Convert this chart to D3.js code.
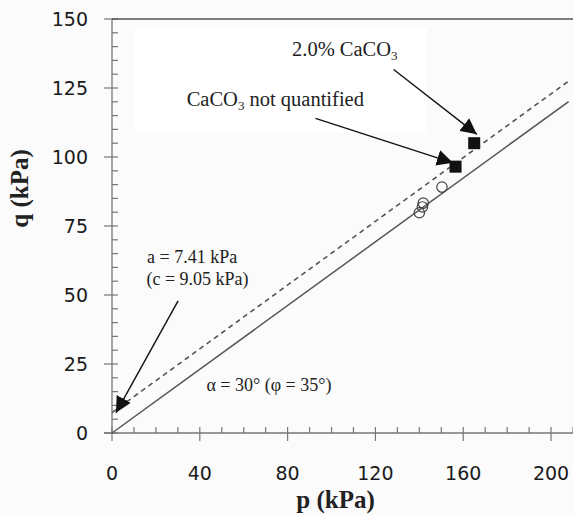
<!DOCTYPE html>
<html>
<head>
<meta charset="utf-8">
<script src="https://cdn.jsdelivr.net/npm/d3@7"></script>
<style>
  html, body { margin: 0; padding: 0; background: #fbfbfb; }
  svg { display: block; }
</style>
</head>
<body>
<div id="chart"></div>
<script>
// measured points
const quantifiedP = [165];
const quantifiedQ = [105];
const unquantifiedP = [156.5];
const unquantifiedQ = [96.5];
const openP = [150.3, 141.8, 141.4, 140.0];
const openQ = [89.1, 83.3, 81.9, 79.8];

// failure envelopes: q = a + p * tan(alpha)
const alphaDeg = 30;
const interceptA = 7.41;
const lineP = [0, 208];

const xTicks = [0, 40, 80, 120, 160, 200];
const yTicks = [0, 25, 50, 75, 100, 125, 150];

const width = 573, height = 515;
const margin = { top: 19, right: 0, bottom: 82, left: 112 };

const svg = d3.select("#chart")
    .append("svg")
    .attr("width", width)
    .attr("height", height);

const x = d3.scaleLinear().domain([0, 210]).range([margin.left, width - margin.right]);
const y = d3.scaleLinear().domain([0, 150]).range([height - margin.bottom, margin.top]);

// whiter patch behind the callout texts (scan artefact in the original)
svg.append("rect")
    .attr("x", 135).attr("y", 28)
    .attr("width", 292).attr("height", 105)
    .attr("fill", "#ffffff");

const axisColor = "#777";
const tickFont = "'DejaVu Sans', sans-serif";

// y axis: minor ticks inside, majors crossing
const yAxis = svg.append("g").attr("transform", `translate(${x(0)},0)`);
yAxis.append("line")
    .attr("y1", y(0)).attr("y2", y(150))
    .attr("stroke", axisColor).attr("stroke-width", 1.3);
yAxis.selectAll(".minor")
    .data(d3.range(0, 151, 5).filter(v => v % 25 !== 0))
    .enter().append("line")
    .attr("x1", 0).attr("x2", 6)
    .attr("y1", d => y(d)).attr("y2", d => y(d))
    .attr("stroke", axisColor).attr("stroke-width", 1.2);
yAxis.selectAll(".major")
    .data(yTicks)
    .enter().append("line")
    .attr("x1", -8).attr("x2", 6)
    .attr("y1", d => y(d)).attr("y2", d => y(d))
    .attr("stroke", axisColor).attr("stroke-width", 1.2);
yAxis.selectAll("text")
    .data(yTicks)
    .enter().append("text")
    .attr("x", -24)
    .attr("y", d => y(d))
    .attr("dy", "0.36em")
    .attr("text-anchor", "end")
    .attr("font-family", tickFont)
    .attr("font-size", 19)
    .attr("fill", "#1a1a1a")
    .text(d => d);

// x axis
const xAxis = svg.append("g").attr("transform", `translate(0,${y(0)})`);
xAxis.append("line")
    .attr("x1", x(0) - 8).attr("x2", width)
    .attr("stroke", axisColor).attr("stroke-width", 1.3);
xAxis.selectAll(".minor")
    .data(d3.range(0, 211, 10).filter(v => v % 40 !== 0))
    .enter().append("line")
    .attr("x1", d => x(d)).attr("x2", d => x(d))
    .attr("y1", -6).attr("y2", 0)
    .attr("stroke", axisColor).attr("stroke-width", 1.2);
xAxis.selectAll(".major")
    .data(xTicks)
    .enter().append("line")
    .attr("x1", d => x(d)).attr("x2", d => x(d))
    .attr("y1", -6).attr("y2", 8)
    .attr("stroke", axisColor).attr("stroke-width", 1.2);
xAxis.selectAll("text")
    .data(xTicks)
    .enter().append("text")
    .attr("x", d => x(d))
    .attr("y", 47)
    .attr("text-anchor", "middle")
    .attr("font-family", tickFont)
    .attr("font-size", 19)
    .attr("fill", "#1a1a1a")
    .text(d => d);

// top frame line
svg.append("line")
    .attr("x1", x(0)).attr("x2", width)
    .attr("y1", y(150)).attr("y2", y(150))
    .attr("stroke", "#555").attr("stroke-width", 1.5);

// axis titles
svg.append("text")
    .attr("x", x(0) + (width - x(0)) / 2 - 7)
    .attr("y", 508)
    .attr("text-anchor", "middle")
    .attr("font-family", "'Liberation Serif', 'Times New Roman', serif")
    .attr("font-weight", "bold")
    .attr("font-size", 25)
    .attr("fill", "#222")
    .text("p (kPa)");

svg.append("text")
    .attr("transform", `translate(28,${(y(75) + y(100)) / 2 - 3}) rotate(-90)`)
    .attr("text-anchor", "middle")
    .attr("font-family", "'Liberation Serif', 'Times New Roman', serif")
    .attr("font-weight", "bold")
    .attr("font-size", 25)
    .attr("fill", "#222")
    .text("q (kPa)");

// envelopes
const slope = Math.tan(alphaDeg * Math.PI / 180);
const solid = lineP.map(p => [p, p * slope]);
const dashed = lineP.map(p => [p, interceptA + p * slope]);
const line = d3.line().x(d => x(d[0])).y(d => y(d[1]));

svg.append("path")
    .datum(solid)
    .attr("d", line)
    .attr("fill", "none")
    .attr("stroke", "#555")
    .attr("stroke-width", 1.5);

svg.append("path")
    .datum(dashed)
    .attr("d", line)
    .attr("fill", "none")
    .attr("stroke", "#555")
    .attr("stroke-width", 1.6)
    .attr("stroke-dasharray", "5,4");

// open circles
svg.selectAll(".open")
    .data(openP.map((p, i) => [p, openQ[i]]))
    .enter().append("circle")
    .attr("cx", d => x(d[0]))
    .attr("cy", d => y(d[1]))
    .attr("r", 5.2)
    .attr("fill", "none")
    .attr("stroke", "#444")
    .attr("stroke-width", 1.2);

// filled squares
const squares = quantifiedP.map((p, i) => [p, quantifiedQ[i]])
    .concat(unquantifiedP.map((p, i) => [p, unquantifiedQ[i]]));
svg.selectAll(".sq")
    .data(squares)
    .enter().append("rect")
    .attr("x", d => x(d[0]) - 6)
    .attr("y", d => y(d[1]) - 6)
    .attr("width", 12).attr("height", 12)
    .attr("fill", "#111");

// callout arrows (from, tip) in data units
const arrows = [
    { from: [128.3, 131.7], to: [166.2, 108.2] },
    { from: [92.7, 114.0], to: [155.3, 97.9] },
    { from: [30.1, 47.9], to: [1.8, 7.3] }
];
svg.append("defs").append("marker")
    .attr("id", "head")
    .attr("viewBox", "0 0 10 10")
    .attr("refX", 10).attr("refY", 5)
    .attr("markerWidth", 16).attr("markerHeight", 16)
    .attr("markerUnits", "userSpaceOnUse")
    .attr("orient", "auto")
    .append("path")
    .attr("d", "M0,0 L10,5 L0,10 Z")
    .attr("fill", "#111");

svg.selectAll(".arrow")
    .data(arrows)
    .enter().append("line")
    .attr("x1", d => x(d.from[0])).attr("y1", d => y(d.from[1]))
    .attr("x2", d => x(d.to[0])).attr("y2", d => y(d.to[1]))
    .attr("stroke", "#111")
    .attr("stroke-width", 1.4)
    .attr("marker-end", "url(#head)");

// callout texts
const serif = "'Liberation Serif', 'Times New Roman', serif";
function caco(p, q, before, after) {
    const el = svg.append("text")
        .attr("x", x(p)).attr("y", y(q))
        .attr("font-family", serif)
        .attr("font-size", 20.5)
        .attr("fill", "#222");
    el.append("tspan").text(before + "CaCO");
    el.append("tspan").attr("font-size", 13).attr("dy", 4).text("3");
    if (after) el.append("tspan").attr("dy", -4).text(after);
    return el;
}
caco(82, 136.5, "2.0% ", "");
caco(34, 118.3, "", " not quantified");

const notes = [
    { p: 16, q: 61.6, text: "a = 7.41 kPa" },
    { p: 15.7, q: 53.6, text: "(c = 9.05 kPa)" },
    { p: 43, q: 15.3, text: "α = 30° (φ = 35°)" }
];
svg.selectAll(".note")
    .data(notes)
    .enter().append("text")
    .attr("x", d => x(d.p))
    .attr("y", d => y(d.q))
    .attr("font-family", serif)
    .attr("font-size", 18)
    .attr("fill", "#222")
    .text(d => d.text);
</script>
</body>
</html>
